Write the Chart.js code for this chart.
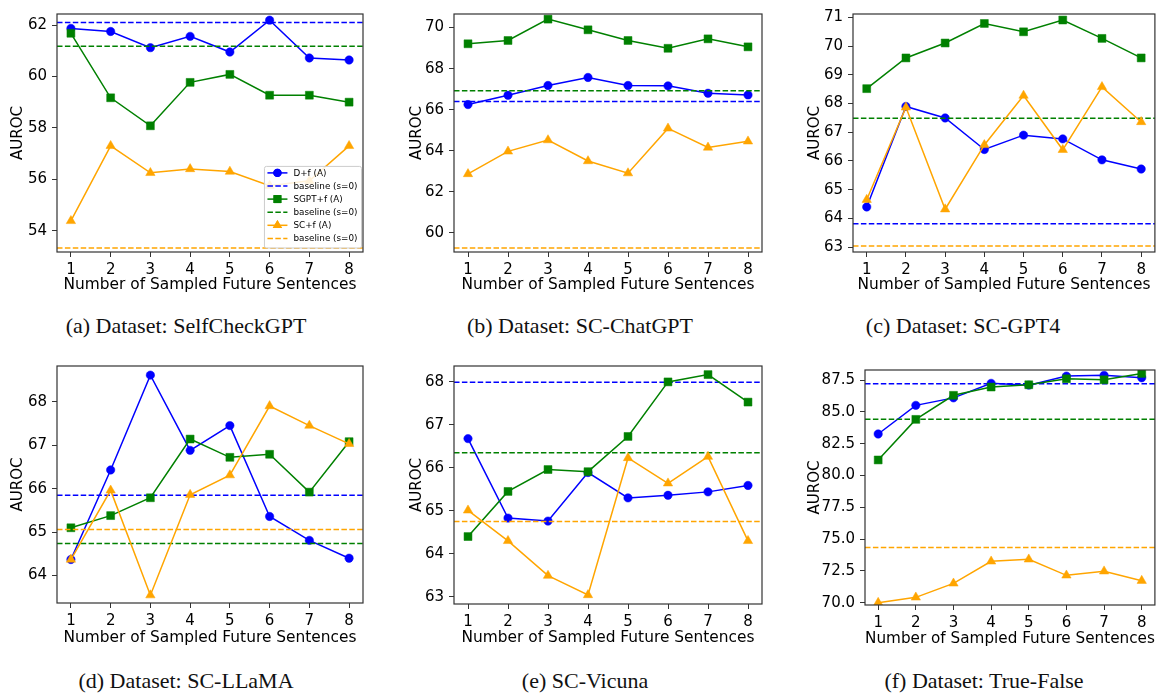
<!DOCTYPE html>
<html>
<head>
<meta charset="utf-8">
<script src="https://cdn.jsdelivr.net/npm/chart.js@4.4.1/dist/chart.umd.min.js"></script>
<style>
  body { margin: 0; background: #fff; }
  #page { position: relative; width: 1161px; height: 696px; overflow: hidden; }
  canvas { position: absolute; }
  .cap { position: absolute; font-family: 'Liberation Serif', 'Times New Roman', serif; font-size: 22px; color: #111;
         transform: translate(-50%, -50%); white-space: nowrap; }
</style>
</head>
<body>
<div id="page">
  <canvas id="pa" width="390" height="300" style="left:0;top:0"></canvas>
  <canvas id="pb" width="390" height="300" style="left:390px;top:0"></canvas>
  <canvas id="pc" width="381" height="300" style="left:780px;top:0"></canvas>
  <canvas id="pd" width="390" height="300" style="left:0;top:352px"></canvas>
  <canvas id="pe" width="390" height="300" style="left:390px;top:352px"></canvas>
  <canvas id="pf" width="381" height="300" style="left:780px;top:352px"></canvas>
  <div class="cap" style="left:186px;top:326px">(a) Dataset: SelfCheckGPT</div>
  <div class="cap" style="left:580px;top:326px">(b) Dataset: SC-ChatGPT</div>
  <div class="cap" style="left:963px;top:326px">(c) Dataset: SC-GPT4</div>
  <div class="cap" style="left:186px;top:681px">(d) Dataset: SC-LLaMA</div>
  <div class="cap" style="left:585px;top:681px">(e) SC-Vicuna</div>
  <div class="cap" style="left:984px;top:681px">(f) Dataset: True-False</div>
</div>
<script>
// nombre d'échantillons futurs (axe x)
const xValues = [1, 2, 3, 4, 5, 6, 7, 8];
const seriesLabels = ['D+f (A)', 'SGPT+f (A)', 'SC+f (A)'];
const baselineLabel = 'baseline (s=0)';

// (a) SelfCheckGPT
const selfcheckDf   = [61.87, 61.75, 61.12, 61.56, 60.95, 62.19, 60.72, 60.64];
const selfcheckSgpt = [61.68, 59.17, 58.08, 59.77, 60.08, 59.27, 59.27, 59.00];
const selfcheckSc   = [54.38, 57.30, 56.25, 56.40, 56.30, 55.75, 55.94, 57.30];
const selfcheckBase = [62.10, 61.18, 53.33];

// (b) SC-ChatGPT
const chatgptDf   = [66.25, 66.70, 67.18, 67.57, 67.18, 67.16, 66.80, 66.72];
const chatgptSgpt = [69.21, 69.37, 70.41, 69.89, 69.37, 68.99, 69.45, 69.06];
const chatgptSc   = [62.87, 63.97, 64.52, 63.50, 62.91, 65.09, 64.16, 64.46];
const chatgptBase = [66.40, 66.92, 59.26];

// (c) SC-GPT4
const gpt4Df   = [64.40, 67.90, 67.50, 66.40, 66.90, 66.77, 66.04, 65.72];
const gpt4Sgpt = [68.52, 69.59, 70.11, 70.79, 70.50, 70.91, 70.27, 69.59];
const gpt4Sc   = [64.65, 67.87, 64.32, 66.56, 68.28, 66.39, 68.58, 67.36];
const gpt4Base = [63.81, 67.49, 63.04];

// (d) SC-LLaMA
const llamaDf   = [64.37, 66.43, 68.61, 66.88, 67.45, 65.36, 64.81, 64.40];
const llamaSgpt = [65.10, 65.38, 65.79, 67.14, 66.72, 66.79, 65.92, 67.08];
const llamaSc   = [64.37, 65.96, 63.55, 65.86, 66.31, 67.90, 67.45, 67.03];
const llamaBase = [65.85, 64.74, 65.06];

// (e) SC-Vicuna
const vicunaDf   = [66.68, 64.83, 64.76, 65.89, 65.30, 65.36, 65.44, 65.59];
const vicunaSgpt = [64.40, 65.45, 65.96, 65.91, 66.73, 68.00, 68.17, 67.53];
const vicunaSc   = [65.01, 64.30, 63.49, 63.04, 66.23, 65.64, 66.26, 64.30];
const vicunaBase = [67.99, 66.35, 64.75];

// (f) True-False
const tfDf   = [83.26, 85.51, 86.10, 87.24, 87.10, 87.81, 87.87, 87.68];
const tfSgpt = [81.22, 84.41, 86.30, 86.95, 87.13, 87.60, 87.52, 88.02];
const tfSc   = [70.00, 70.42, 71.52, 73.25, 73.41, 72.15, 72.47, 71.73];
const tfBase = [87.20, 84.42, 74.34];

const colors = ['#0000ff', '#008000', '#ffa500'];
const markers = [
  { pointStyle: 'circle', radius: 4.2 },
  { pointStyle: 'rect', radius: 5.6 },
  { pointStyle: 'triangle', radius: 5.4 }
];
const X_MIN = 0.65, X_MAX = 8.35;

Chart.defaults.font.family = "'DejaVu Sans', sans-serif";
Chart.defaults.font.size = 15;
Chart.defaults.color = '#000';

// cadre complet autour de la zone de tracé (comme matplotlib)
const framePlugin = {
  id: 'frame',
  afterDraw(chart) {
    const a = chart.chartArea, ctx = chart.ctx;
    ctx.save();
    ctx.strokeStyle = '#333';
    ctx.lineWidth = 1.2;
    ctx.strokeRect(a.left, a.top, a.right - a.left, a.bottom - a.top);
    ctx.restore();
  }
};

// légende dessinée dans le coin bas-droit
const cornerLegend = {
  id: 'cornerLegend',
  afterDraw(chart, args, opts) {
    if (!opts.show) return;
    const ctx = chart.ctx, a = chart.chartArea;
    const rowH = 13.1, fontSize = 8.8;
    ctx.save();
    ctx.font = fontSize + "px 'DejaVu Sans'";
    const items = chart.data.datasets.slice().sort((p, q) => p.legendIndex - q.legendIndex);
    let tw = 0;
    items.forEach(d => { tw = Math.max(tw, ctx.measureText(d.label).width); });
    const w = 3 + 20 + 6 + tw + 4, h = items.length * rowH + 3;
    const x0 = a.right - 1.5 - w, y0 = a.bottom - 4 - h;
    ctx.fillStyle = 'rgba(255,255,255,0.85)';
    ctx.strokeStyle = '#ccc';
    ctx.lineWidth = 1;
    ctx.beginPath();
    ctx.roundRect(x0, y0, w, h, 2);
    ctx.fill();
    ctx.stroke();
    items.forEach((d, i) => {
      const cy = y0 + 6.5 + i * rowH;
      ctx.strokeStyle = d.borderColor;
      ctx.lineWidth = 1.5;
      ctx.setLineDash(d.borderDash || []);
      ctx.beginPath();
      ctx.moveTo(x0 + 3, cy);
      ctx.lineTo(x0 + 23, cy);
      ctx.stroke();
      ctx.setLineDash([]);
      if (d.pointRadius > 0) {
        ctx.fillStyle = d.borderColor;
        Chart.helpers.drawPoint(ctx, { pointStyle: d.pointStyle, radius: d.pointRadius, borderWidth: 0 }, x0 + 13, cy);
        ctx.fill();
      }
      ctx.fillStyle = '#000';
      ctx.textBaseline = 'middle';
      ctx.fillText(d.label, x0 + 29, cy + 0.5);
    });
    ctx.restore();
  }
};

function buildDatasets(df, sgpt, sc, base) {
  const sets = [];
  [df, sgpt, sc].forEach((vals, k) => {
    sets.push({
      label: seriesLabels[k],
      data: xValues.map((x, i) => ({ x: x, y: vals[i] })),
      borderColor: colors[k], backgroundColor: colors[k],
      borderWidth: 1.5,
      pointStyle: markers[k].pointStyle, pointRadius: markers[k].radius,
      pointBorderWidth: 0.5,
      order: 6 - 2 * k, legendIndex: 2 * k
    });
    sets.push({
      label: baselineLabel,
      data: [{ x: X_MIN, y: base[k] }, { x: X_MAX, y: base[k] }],
      borderColor: colors[k], backgroundColor: colors[k],
      borderWidth: 1.5, borderDash: [5.5, 2.4],
      pointRadius: 0,
      order: 5 - 2 * k, legendIndex: 2 * k + 1
    });
  });
  return sets;
}

// cv = [gauche, haut, largeur, hauteur] du canvas ; plot = [gauche, haut, droite, bas] de la zone de tracé (page)
function panel(id, cv, plot, yMin, yMax, yStep, df, sgpt, sc, base, yTitleX, xTitleY, legend, decimals) {
  const ctx = document.getElementById(id);
  const axisW = plot[0] - cv[0];
  const axisH = cv[1] + cv[3] - plot[3];
  new Chart(ctx, {
    type: 'line',
    data: { datasets: buildDatasets(df, sgpt, sc, base) },
    plugins: [framePlugin, cornerLegend],
    options: {
      responsive: false,
      animation: false,
      layout: { padding: { top: plot[1] - cv[1], right: cv[0] + cv[2] - plot[2], left: 0, bottom: 0 } },
      plugins: {
        legend: { display: false },
        tooltip: { enabled: false },
        cornerLegend: { show: legend }
      },
      scales: {
        x: {
          type: 'linear', min: X_MIN, max: X_MAX,
          afterFit: s => { s.height = axisH; },
          ticks: { stepSize: 1, includeBounds: false, padding: 4, color: '#000' },
          grid: { drawOnChartArea: false, drawTicks: true, tickLength: 5, color: '#333' },
          border: { display: false },
          title: { display: true, text: 'Number of Sampled Future Sentences', color: '#000',
                   font: { size: 15.4 },
                   padding: { top: 0, bottom: cv[1] + cv[3] - xTitleY - 9 } }
        },
        y: {
          min: yMin, max: yMax,
          afterFit: s => { s.width = axisW; },
          ticks: { stepSize: yStep, includeBounds: false, padding: 5, color: '#000',
                   callback: v => decimals ? v.toFixed(decimals) : v },
          grid: { drawOnChartArea: false, drawTicks: true, tickLength: 5, color: '#333' },
          border: { display: false },
          title: { display: true, text: 'AUROC', color: '#000', padding: { top: yTitleX - 9, bottom: 0 } }
        }
      }
    }
  });
}

panel('pa', [0, 0, 390, 300],     [57, 7, 363, 252],    53.17, 62.43, 2,   selfcheckDf, selfcheckSgpt, selfcheckSc, selfcheckBase, 18, 285, true, 0);
panel('pb', [390, 0, 390, 300],   [454, 7, 762, 252],   59.07, 70.66, 2,   chatgptDf, chatgptSgpt, chatgptSc, chatgptBase, 27, 285, false, 0);
panel('pc', [780, 0, 381, 300],   [853, 7, 1160, 252],  62.83, 71.12, 1,   gpt4Df, gpt4Sgpt, gpt4Sc, gpt4Base, 35, 285, false, 0);
panel('pd', [0, 352, 390, 300],   [57, 359, 363, 603],  63.37, 68.82, 1,   llamaDf, llamaSgpt, llamaSc, llamaBase, 18, 638, false, 0);
panel('pe', [390, 352, 390, 300], [454, 359, 762, 604], 62.83, 68.37, 1,   vicunaDf, vicunaSgpt, vicunaSc, vicunaBase, 27, 638, false, 0);
panel('pf', [780, 352, 381, 300], [865, 370, 1160, 605], 69.82, 88.29, 2.5, tfDf, tfSgpt, tfSc, tfBase, 35, 639, false, 1);
</script>
</body>
</html>
